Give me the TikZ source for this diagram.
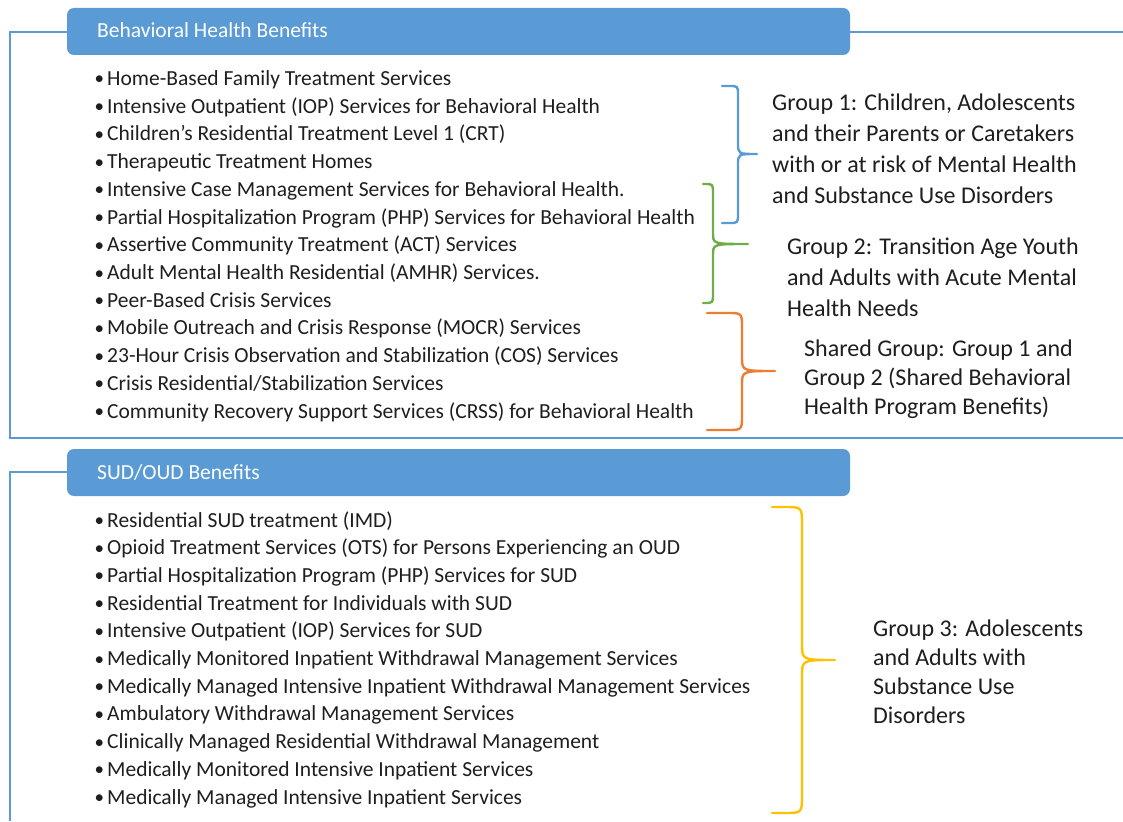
\documentclass[tikz,border=0pt]{standalone}
\usepackage{fontspec}
\setmainfont{Carlito}
\definecolor{hblue}{HTML}{5B9BD5}
\definecolor{bgreen}{HTML}{70AD47}
\definecolor{borange}{HTML}{ED7D31}
\definecolor{byellow}{HTML}{FFC000}
\definecolor{txt}{HTML}{1E1E1E}
\newcommand\mybrace[9]{%
  % #1 colour, #2 x0, #3 xv, #4 xt, #5 ytop, #6 ymid, #7 ybot, #8 corner r, #9 mid r
  \draw[bracestyle,#1] (#2,#5) -- ({#3-#8},#5) .. controls (#3,#5) .. (#3,{#5+#8})
    -- (#3,{#6-#9}) .. controls (#3,#6) .. (#4,#6)
    .. controls (#3,#6) .. (#3,{#6+#9})
    -- (#3,{#7-#8}) .. controls (#3,#7) .. ({#3-#8},#7) -- (#2,#7);}
\newcommand\mybullet{\llap{\raisebox{0.5pt}{\fontsize{19}{20}\selectfont•}\hspace{3.2pt}}}
\begin{document}
\begin{tikzpicture}[x=1pt,y=-1pt,
  frame/.style={draw=hblue,line width=2pt},
  header/.style={fill=hblue,draw=none,rounded corners=7pt},
  headtext/.style={anchor=base west,inner sep=0pt,text=white,font=\fontsize{21.5}{25}\selectfont},
  item/.style={anchor=base west,inner sep=0pt,text=txt,font=\fontsize{21.5}{26}\selectfont},
  grouptext/.style={anchor=base west,inner sep=0pt,text=txt,font=\fontsize{24}{30}\selectfont},
  bracestyle/.style={line width=2.4pt,line cap=round,line join=round}]
\useasboundingbox (0,0) rectangle (1123,821);
% frames
\draw[frame] (67,32) -- (10,32) -- (10,438) -- (1123,438);
\draw[frame] (850,32) -- (1123,32);
\draw[frame] (67,472) -- (10,472) -- (10,821);
% headers
\fill[header] (67,8) rectangle (850,55);
\node[headtext] (h1) at (97,38) {Behavioral Health Benefits};
\fill[header] (67,449) rectangle (850,496);
\node[headtext] (h2) at (97,479) {SUD/OUD Benefits};
% behavioral items
\foreach \t [count=\i] in {
  Home-Based Family Treatment Services,
  Intensive Outpatient (IOP) Services for Behavioral Health,
  Children’s Residential Treatment Level 1 (CRT),
  Therapeutic Treatment Homes,
  Intensive Case Management Services for Behavioral Health.,
  Partial Hospitalization Program (PHP) Services for Behavioral Health,
  Assertive Community Treatment (ACT) Services,
  Adult Mental Health Residential (AMHR) Services.,
  Peer-Based Crisis Services,
  Mobile Outreach and Crisis Response (MOCR) Services,
  23-Hour Crisis Observation and Stabilization (COS) Services,
  Crisis Residential/Stabilization Services,
  Community Recovery Support Services (CRSS) for Behavioral Health}
  {\node[item] (b\i) at (107,{85.5+27.72*(\i-1)}) {\mybullet\t};}
% SUD items
\foreach \t [count=\i] in {
  Residential SUD treatment (IMD),
  Opioid Treatment Services (OTS) for Persons Experiencing an OUD,
  Partial Hospitalization Program (PHP) Services for SUD,
  Residential Treatment for Individuals with SUD,
  Intensive Outpatient (IOP) Services for SUD,
  Medically Monitored Inpatient Withdrawal Management Services,
  Medically Managed Intensive Inpatient Withdrawal Management Services,
  Ambulatory Withdrawal Management Services,
  Clinically Managed Residential Withdrawal Management,
  Medically Monitored Intensive Inpatient Services,
  Medically Managed Intensive Inpatient Services}
  {\node[item] (s\i) at (107,{527+27.7*(\i-1)}) {\mybullet\t};}
% braces
\mybrace{hblue}{722}{738}{757}{86}{154}{223}{9}{11}
\mybrace{bgreen}{703}{713}{748}{184}{244}{303}{9}{11}
\mybrace{borange}{707}{742}{775}{313}{371}{430}{15}{14}
\mybrace{byellow}{772}{802}{835}{507}{660}{813}{18}{16}
% group labels
\foreach \t [count=\i] in {Group 1: Children{,} Adolescents, and their Parents or Caretakers, with or at risk of Mental Health, and Substance Use Disorders}
  {\node[grouptext] (ga\i) at (772,{110.7+31*(\i-1)}) {\t};}
\foreach \t [count=\i] in {Group 2: Transition Age Youth, and Adults with Acute Mental, Health Needs}
  {\node[grouptext] (gb\i) at (787,{254.5+31*(\i-1)}) {\t};}
\foreach \t [count=\i] in {Shared Group: Group 1 and, Group 2 (Shared Behavioral, Health Program Benefits)}
  {\node[grouptext] (gc\i) at (804,{356.7+28.8*(\i-1)}) {\t};}
\foreach \t [count=\i] in {Group 3: Adolescents, and Adults with, Substance Use, Disorders}
  {\node[grouptext] (gd\i) at (873,{636.7+29*(\i-1)}) {\t};}
\end{tikzpicture}
\end{document}
